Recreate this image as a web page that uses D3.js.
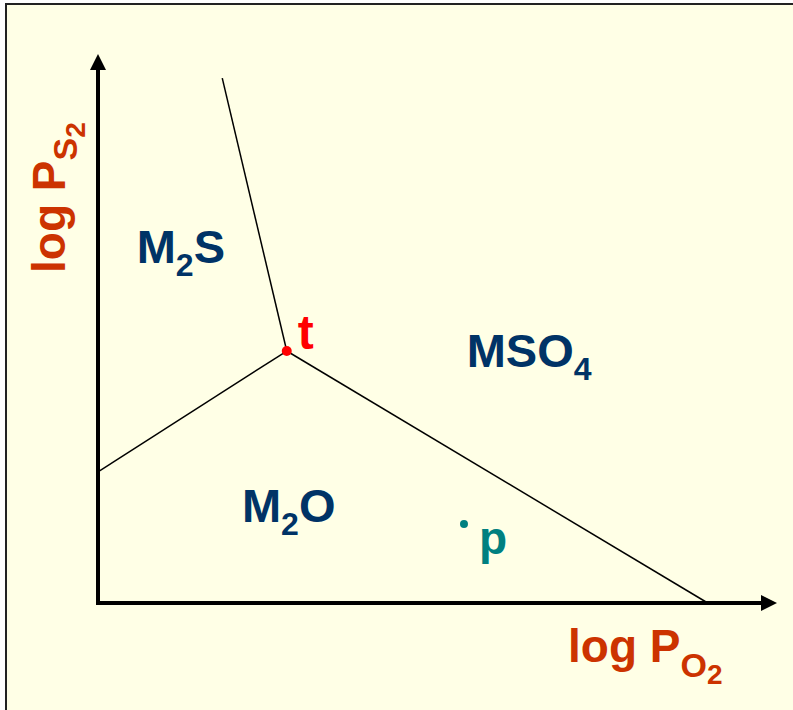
<!DOCTYPE html>
<html lang="en">
<head>
    <meta charset="UTF-8">
    <title>Predominance diagram</title>
    <script src="https://d3js.org/d3.v7.min.js"></script>
    <style>
        body { margin: 0; background: #fff; }
        text { font-family: Arial, "Liberation Sans", sans-serif; font-weight: bold; }
        .boundary { fill: none; stroke: #000; stroke-width: 1.5px; }
        .axis { stroke: #000; stroke-width: 4px; }
    </style>
</head>
<body>
    <svg width="793" height="710"></svg>

    <script>
        // phase boundaries meet at the triple point t (axis units 0..10)
        const triplePoint = [2.78, 4.59];
        const boundaryEnds = [[1.83, 9.56], [0, 2.39], [8.98, 0]];

        // phase fields
        const phaseMain = ["M", "M", "MSO"];
        const phaseSub = ["2", "2", "4"];
        const phaseTail = ["S", "O", ""];
        const phaseX = [0.57, 2.12, 5.43];
        const phaseY = [6.2, 1.48, 4.3];

        // point p
        const pointP = [5.39, 1.44];

        const svg = d3.select("svg"),
            width = +svg.attr("width"),
            height = +svg.attr("height");

        svg.append("rect")
            .attr("x", 6).attr("y", 4)
            .attr("width", width).attr("height", height)
            .attr("fill", "#FFFFE6")
            .attr("stroke", "#222")
            .attr("stroke-width", 2);

        const x = d3.scaleLinear().domain([0, 10]).range([98, 777]);
        const y = d3.scaleLinear().domain([0, 10]).range([603, 54]);

        // boundaries
        svg.append("g").selectAll("line")
            .data(boundaryEnds)
            .enter().append("line")
            .attr("class", "boundary")
            .attr("x1", x(triplePoint[0]))
            .attr("y1", y(triplePoint[1]))
            .attr("x2", d => x(d[0]))
            .attr("y2", d => y(d[1]));

        // axes with arrow heads
        svg.append("line").attr("class", "axis")
            .attr("x1", x(0)).attr("y1", y(0) + 2)
            .attr("x2", x(0)).attr("y2", y(10) + 14);
        svg.append("line").attr("class", "axis")
            .attr("x1", x(0) - 2).attr("y1", y(0))
            .attr("x2", x(10) - 14).attr("y2", y(0));
        svg.append("path")
            .attr("d", `M${x(0)},${y(10)} L${x(0) - 8},${y(10) + 16} L${x(0) + 8},${y(10) + 16} Z`)
            .attr("fill", "#000");
        svg.append("path")
            .attr("d", `M${x(10)},${y(0)} L${x(10) - 16},${y(0) - 8} L${x(10) - 16},${y(0) + 8} Z`)
            .attr("fill", "#000");

        // phase labels
        phaseMain.forEach((m, i) => {
            const t = svg.append("text")
                .attr("x", x(phaseX[i]))
                .attr("y", y(phaseY[i]))
                .attr("fill", "#003366")
                .attr("font-size", 47);
            t.append("tspan").text(m);
            t.append("tspan").attr("font-size", 32).attr("dy", 13).text(phaseSub[i]);
            if (phaseTail[i]) t.append("tspan").attr("dy", -13).text(phaseTail[i]);
        });

        // triple point
        svg.append("circle")
            .attr("cx", x(triplePoint[0])).attr("cy", y(triplePoint[1]))
            .attr("r", 5).attr("fill", "#FF0000");
        svg.append("text")
            .attr("x", x(triplePoint[0]) + 11).attr("y", y(triplePoint[1]) - 2)
            .attr("fill", "#FF0000").attr("font-size", 48)
            .text("t");

        // point p
        svg.append("circle")
            .attr("cx", x(pointP[0])).attr("cy", y(pointP[1]))
            .attr("r", 4).attr("fill", "#008080");
        svg.append("text")
            .attr("x", x(pointP[0]) + 15).attr("y", y(pointP[1]) + 30)
            .attr("fill", "#008080").attr("font-size", 46)
            .text("p");

        // axis titles
        const xt = svg.append("text")
            .attr("x", 568).attr("y", 662)
            .attr("fill", "#CC3300").attr("font-size", 46);
        xt.append("tspan").text("log P");
        xt.append("tspan").attr("font-size", 34).attr("dy", 15).text("O");
        xt.append("tspan").attr("font-size", 28).attr("dy", 7).text("2");

        const yt = svg.append("text")
            .attr("transform", "translate(65,273) rotate(-90)")
            .attr("fill", "#CC3300").attr("font-size", 46);
        yt.append("tspan").text("log P");
        yt.append("tspan").attr("font-size", 34).attr("dy", 12).text("S");
        yt.append("tspan").attr("font-size", 28).attr("dy", 8).text("2");
    </script>
</body>
</html>
